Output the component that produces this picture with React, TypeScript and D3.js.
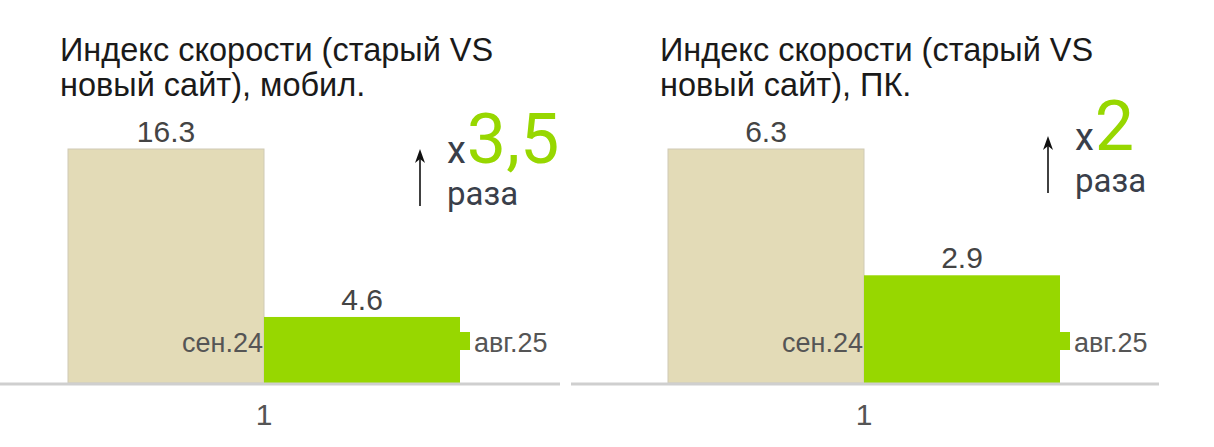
import React from "react";
import * as d3 from "d3";

const series = ["сен.24", "авг.25"];
const categories = ["1"];
const mobileValues = [16.3, 4.6];
const desktopValues = [6.3, 2.9];
const titlesMobile = ["Индекс скорости (старый VS", "новый сайт), мобил."];
const titlesDesktop = ["Индекс скорости (старый VS", "новый сайт), ПК."];
const ratios = ["3,5", "2"];

const colors = ["#e3dbb7", "#97d700"];
const W = 1214;
const H = 447;
const FONT = "Liberation Sans, Arial, sans-serif";

type PanelProps = {
  x0: number;
  values: number[];
  titles: string[];
  ratio: string;
  annX: number;
  annY: number;
  lineStart: number;
  lineEnd: number;
};

const Panel = ({ x0, values, titles, ratio, annX, annY, lineStart, lineEnd }: PanelProps) => {
  const baseY = 383;
  const xCat = d3.scaleBand().domain(categories).range([x0 + 68, x0 + 460]).padding(0);
  const xSeries = d3.scaleBand().domain(series).range([0, xCat.bandwidth()]);
  const y = d3.scaleLinear().domain([0, d3.max(values) as number]).range([baseY, 149]);
  const catX = xCat(categories[0]) as number;
  const cx = catX + xCat.bandwidth() / 2;

  return (
    <g>
      {titles.map((t, i) => (
        <text key={t} x={x0 + 60} y={61 + i * 35} fontFamily={FONT} fontSize={32.5} fill="#1a1a1a">
          {t}
        </text>
      ))}
      {series.map((s, i) => {
        const bx = catX + (xSeries(s) as number);
        return (
          <g key={s}>
            <rect
              x={bx}
              y={y(values[i])}
              width={xSeries.bandwidth()}
              height={baseY - y(values[i])}
              fill={colors[i]}
              stroke={i === 0 ? "#cfcab5" : "none"}
              strokeWidth={1}
            />
            <text
              x={bx + xSeries.bandwidth() / 2}
              y={y(values[i]) - 7}
              textAnchor="middle"
              fontFamily={FONT}
              fontSize={30}
              fill="#444"
            >
              {values[i]}
            </text>
          </g>
        );
      })}
      {/* legend */}
      <text
        x={catX + (xSeries(series[1]) as number) - 1}
        y={352}
        textAnchor="end"
        fontFamily={FONT}
        fontSize={27}
        fill="#555"
      >
        {series[0]}
      </text>
      <rect x={catX + xCat.bandwidth()} y={332} width={10} height={18} fill={colors[1]} />
      <text x={catX + xCat.bandwidth() + 14} y={352} fontFamily={FONT} fontSize={27} fill="#555">
        {series[1]}
      </text>
      {/* axis */}
      <line x1={lineStart} x2={lineEnd} y1={baseY + 1} y2={baseY + 1} stroke="#cfcfcf" strokeWidth={3} />
      <text x={cx} y={425} textAnchor="middle" fontFamily={FONT} fontSize={30} fill="#555">
        {categories[0]}
      </text>
      {/* annotation */}
      <line x1={annX - 27} x2={annX - 27} y1={annY + 43} y2={annY - 10} stroke="#111" strokeWidth={1.6} />
      <path
        d={`M${annX - 27},${annY - 14} L${annX - 32},${annY} L${annX - 27},${annY - 4} L${annX - 22},${annY} Z`}
        fill="#111"
      />
      <text x={annX} y={annY} fontFamily="Roboto, sans-serif" fontSize={38} fill="#3a3f4a">
        x
        <tspan fontSize={70} fill="#97d700" dx={1}>
          {ratio}
        </tspan>
      </text>
      <text x={annX} y={annY + 42} fontFamily="Roboto, sans-serif" fontSize={33} fill="#3a3f4a">
        раза
      </text>
    </g>
  );
};

export default function App() {
  return (
    <svg width={W} height={H} style={{ position: "absolute", left: 0, top: 0, background: "#fff" }}>
      <Panel
        x0={0}
        values={mobileValues}
        titles={titlesMobile}
        ratio={ratios[0]}
        annX={447}
        annY={163}
        lineStart={0}
        lineEnd={560}
      />
      <Panel
        x0={600}
        values={desktopValues}
        titles={titlesDesktop}
        ratio={ratios[1]}
        annX={1075}
        annY={150}
        lineStart={571}
        lineEnd={1159}
      />
    </svg>
  );
}
